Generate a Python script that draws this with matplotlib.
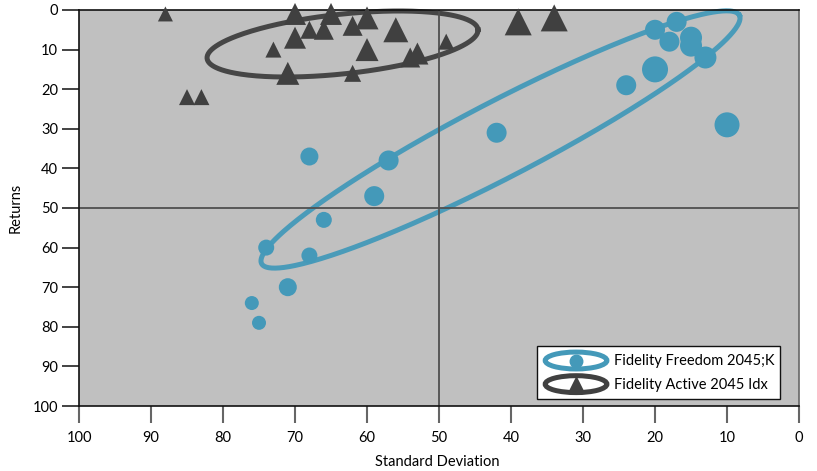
import numpy as np
import matplotlib
matplotlib.use("Agg")
import matplotlib.pyplot as plt
from matplotlib.patches import Ellipse
from matplotlib.lines import Line2D
from matplotlib.legend_handler import HandlerBase

plt.rcParams['font.family'] = ['Lato', 'DejaVu Sans']

# ---- data ----
freedom_sd = [20, 17, 18, 15, 15, 13, 20, 24, 10, 42, 68, 57, 59, 66, 74, 68, 71, 76, 75]
freedom_ret = [5, 3, 8, 7, 9, 12, 15, 19, 29, 31, 37, 38, 47, 53, 60, 62, 70, 74, 79]
freedom_size = [20, 20, 20, 22, 22, 22, 26, 20, 25, 20, 18, 20, 20, 16, 16, 16, 18, 14, 14]

active_sd = [88, 70, 65, 60, 62, 68, 66, 70, 56, 73, 60, 53, 54, 49, 71, 62, 85, 83, 39, 34]
active_ret = [1, 1, 1, 2, 4, 5, 5, 7, 5, 10, 10, 11, 12, 8, 16, 16, 22, 22, 3, 2]
active_size = [15, 22, 22, 23, 20, 18, 20, 22, 25, 16, 23, 22, 20, 16, 23, 17, 16, 16, 27, 27]

# ellipse params (center, major half-vector, minor half-vector) in data units
freedom_ell = dict(c=(41.46, 32.7), a=(-33.18, -31.36), b=(-2.42, 8.48))
active_ell = dict(c=(63.4, 8.59), a=(-18.81, -3.65), b=(-0.44, 7.49))

labels = ["Fidelity Freedom 2045;K", "Fidelity Active 2045 Idx"]
ticks = list(range(0, 101, 10))

BLUE = '#4499b9'
DARK = '#404040'
FS = 10.5

fig = plt.figure(figsize=(8.17, 4.71), dpi=100)
ax = fig.add_axes([0.0967, 0.138, 0.8813, 0.8408])
ax.set_facecolor('#c0c0c0')
ax.set_xlim(100, 0)
ax.set_ylim(100, 0)

ax.axvline(50, color='#505050', lw=1.3, zorder=2)
ax.axhline(50, color='#505050', lw=1.3, zorder=2)

t = np.linspace(0, 2 * np.pi, 400)
for e, col in [(freedom_ell, BLUE), (active_ell, DARK)]:
    cx, cy = e['c']
    xs = cx + np.cos(t) * e['a'][0] + np.sin(t) * e['b'][0]
    ys = cy + np.cos(t) * e['a'][1] + np.sin(t) * e['b'][1]
    ax.plot(xs, ys, color=col, lw=3.6, zorder=1.5, alpha=0.95, clip_on=False)

px2pt = 0.72
ax.scatter(freedom_sd, freedom_ret, s=[(d * px2pt) ** 2 for d in freedom_size],
           color=BLUE, marker='o', linewidths=0, zorder=3, clip_on=False)
ax.scatter(active_sd, active_ret, s=[(d * px2pt) ** 2 for d in active_size],
           color=DARK, marker='^', linewidths=0, zorder=3, clip_on=False)

ax.set_xticks(ticks)
ax.set_yticks(ticks)
ax.tick_params(axis='x', length=12, width=1.5, color='#666666', labelsize=FS, pad=6)
ax.tick_params(axis='y', length=12, width=1.2, color='#222222', labelsize=FS, pad=3)
for s in ['left', 'bottom', 'top']:
    ax.spines[s].set_color('#111111')
    ax.spines[s].set_linewidth(1.2)
ax.spines['right'].set_color('#666666')
ax.spines['right'].set_linewidth(1.2)

ax.set_xlabel('Standard Deviation', fontsize=FS, labelpad=7, x=0.498)
ax.set_ylabel('Returns', fontsize=FS, labelpad=7)


class HandlerEllMarker(HandlerBase):
    def __init__(self, color, marker, msize):
        super().__init__()
        self.color = color
        self.marker = marker
        self.msize = msize

    def create_artists(self, legend, orig_handle, xdescent, ydescent, width, height,
                       fontsize, trans):
        cx = width / 2 - xdescent
        cy = height / 2 - ydescent
        el = Ellipse((cx, cy), width * 0.92, height * 0.95, fill=False,
                     edgecolor=self.color, lw=3.6, transform=trans)
        mk = Line2D([cx], [cy], marker=self.marker, color=self.color, ms=self.msize,
                    ls='none', transform=trans)
        return [el, mk]


h1 = Line2D([], [], color=BLUE)
h2 = Line2D([], [], color=DARK)
leg = ax.legend([h1, h2], labels, loc='lower right', bbox_to_anchor=(0.974, 0.018),
                bbox_transform=ax.transAxes, borderaxespad=0, fontsize=FS,
                handler_map={h1: HandlerEllMarker(BLUE, 'o', 9),
                             h2: HandlerEllMarker(DARK, '^', 10)},
                handlelength=4.6, handleheight=1.5, handletextpad=0.3,
                labelspacing=0.4, borderpad=0.4, fancybox=False, framealpha=1,
                edgecolor='#111111', facecolor='white')
leg.get_frame().set_linewidth(1.0)
leg.set_zorder(5)

fig.savefig('out.png', dpi=100)
